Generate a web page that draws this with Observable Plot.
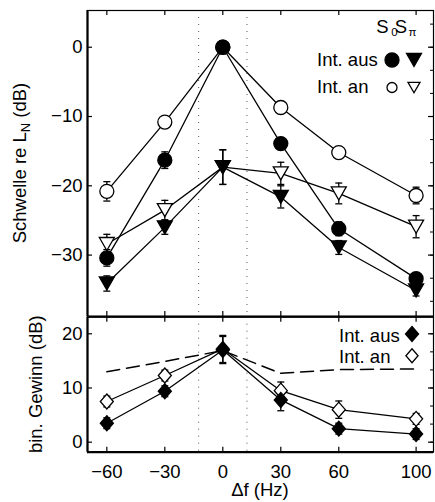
<!DOCTYPE html>
<html><head><meta charset="utf-8">
<script src="https://cdn.jsdelivr.net/npm/d3@7"></script>
<script src="https://cdn.jsdelivr.net/npm/@observablehq/plot@0.6"></script>
<style>
body{margin:0;background:#fff;}
#wrap{position:relative;width:435px;height:502px;}
#wrap svg{position:absolute;left:0;overflow:visible;}
</style></head><body><div id="wrap"></div>
<script>
// ---------- data ----------
const deltaF = [-60, -30, 0, 30, 60, 100];
const xTickValues = [-60, -30, 0, 30, 60, 100];
const bandEdges = [-12.5, 12.5];

// top panel: Schwelle re L_N (dB)
const ausS0 = [-30.4, -16.3, 0, -13.9, -26.2, -33.4];     // Int. aus, S0 (filled circle)
const ausS0Err = [1.2, 1.2, 0.3, 0.8, 1.0, 0.8];
const anS0 = [-20.8, -10.8, 0, -8.7, -15.2, -21.4];       // Int. an, S0 (open circle)
const anS0Err = [1.4, 0.6, 0.3, 0.6, 0.6, 1.2];
const ausSpi = [-34.1, -26.0, -17.3, -21.6, -28.9, -35.1]; // Int. aus, Spi (filled triangle)
const ausSpiErr = [1.1, 1.0, 2.5, 1.6, 1.0, 0.8];
const anSpi = [-28.4, -23.5, -17.3, -18.2, -21.1, -25.9];  // Int. an, Spi (open triangle)
const anSpiErr = [1.4, 1.4, 2.5, 1.6, 1.5, 1.6];
const yTicksTop = [0, -10, -20, -30];

// bottom panel: bin. Gewinn (dB)
const gainAus = [3.5, 9.4, 17.0, 7.8, 2.5, 1.5];
const gainAusErr = [1.0, 1.0, 2.5, 2.0, 1.0, 1.0];
const gainAn = [7.5, 12.3, 17.2, 9.5, 6.0, 4.3];
const gainAnErr = [1.0, 1.0, 2.5, 1.6, 1.6, 1.0];
const gainDashed = [13.0, 14.9, 16.9, 12.7, 13.4, 13.5];
const yTicksBottom = [0, 10, 20];

const legendTop = ["Int. aus", "Int. an"];
const legendBottom = ["Int. aus", "Int. an"];

// ---------- layout ----------
const FONT = "'Liberation Sans', Arial, Helvetica, sans-serif";
const FS = 18.5;
const W = 435, ML = 87, MR = 2;
const PW = W - ML - MR;
const xDomain = [-70, 109];

const triDown = {draw(c, size){ const r = Math.sqrt(size/Math.PI); c.moveTo(-r, -0.87*r); c.lineTo(r, -0.87*r); c.lineTo(0, 0.87*r); c.closePath(); }};
const diamond = {draw(c, size){ const r = Math.sqrt(size/Math.PI); c.moveTo(0, -r); c.lineTo(0.87*r, 0); c.lineTo(0, r); c.lineTo(-0.87*r, 0); c.closePath(); }};
const cap = {draw(c){ c.moveTo(-3.5, 0); c.lineTo(3.5, 0); }};

const rows = (vals, errs) => deltaF.map((x, i) => ({x, y: vals[i], e: errs[i]}));
const LW = 1.3;

function series(data, sym, r, fill) {
  return {
    line: Plot.line(data, {x: "x", y: "y", stroke: "black", strokeWidth: LW}),
    bars: [
      Plot.ruleX(data, {x: "x", y1: d => d.y - d.e, y2: d => d.y + d.e, stroke: "black", strokeWidth: LW}),
      Plot.dot(data, {x: "x", y: d => d.y - d.e, symbol: cap, fill: "none", stroke: "black", strokeWidth: LW}),
      Plot.dot(data, {x: "x", y: d => d.y + d.e, symbol: cap, fill: "none", stroke: "black", strokeWidth: LW})
    ],
    dots: Plot.dot(data, {x: "x", y: "y", symbol: sym, r, fill, stroke: "black", strokeWidth: LW})
  };
}

function frameMarks(PH, yTicks, yDomain) {
  const minorStep = 10/3;
  const minor = d3.range(Math.ceil(yDomain[0]/minorStep), Math.floor(yDomain[1]/minorStep) + 1).map(k => k*minorStep);
  return [
    Plot.ruleX(bandEdges, {stroke: "#555", strokeWidth: 1, strokeDasharray: "1,6"}),
    Plot.frame({stroke: "black", strokeWidth: 1.2}),
    Plot.ruleX([xDomain[0]], {stroke: "black", strokeWidth: 2.2}),
    Plot.ruleY([yDomain[0]], {stroke: "black", strokeWidth: 2.2}),
    Plot.tickX(xTickValues, {x: d => d, insetTop: PH - 5, strokeWidth: 1.2}),
    Plot.tickX(xTickValues, {x: d => d, insetBottom: PH - 5, strokeWidth: 1.2}),
    Plot.tickY(yTicks, {y: d => d, insetRight: PW - 5, strokeWidth: 1.2}),
    Plot.tickY(yTicks, {y: d => d, insetLeft: PW - 5, strokeWidth: 1.2}),
    Plot.tickY(minor, {y: d => d, insetLeft: PW - 3, strokeWidth: 1})
  ];
}

const wrap = document.getElementById("wrap");

// ---------- top panel ----------
const topH = 317, topMT = 10, topMB = 1;
const topPH = topH - topMT - topMB;
const yDomTop = [-38.86, 5.3];
const sAnS0 = series(rows(anS0, anS0Err), "circle", 7, "white");
const sAnSpi = series(rows(anSpi, anSpiErr), triDown, 7.5, "white");
const sAusS0 = series(rows(ausS0, ausS0Err), "circle", 7, "black");
const sAusSpi = series(rows(ausSpi, ausSpiErr), triDown, 7.5, "black");
const topSeries = [sAnS0, sAnSpi, sAusS0, sAusSpi];

const topPlot = Plot.plot({
  width: W, height: topH, marginLeft: ML, marginRight: MR, marginTop: topMT, marginBottom: topMB,
  x: {domain: xDomain, axis: null},
  y: {domain: yDomTop, axis: null},
  style: {fontFamily: FONT, fontSize: FS + "px", background: "transparent", overflow: "visible"},
  marks: [
    ...frameMarks(topPH, yTicksTop, yDomTop),
    Plot.axisY(yTicksTop, {tickSize: 0, tickPadding: 5, label: null, fontSize: FS}),
    ...topSeries.map(s => s.line),
    ...topSeries.flatMap(s => s.bars),
    ...topSeries.map(s => s.dots)
  ]
});
topPlot.style.top = "0px";
wrap.appendChild(topPlot);

// ---------- bottom panel ----------
const botTop = 316, botH = 186, botMT = 0.7, botMB = 50.3;
const botPH = botH - botMT - botMB;
const yDomBot = [-1.85, 23.06];
const sAn = series(rows(gainAn, gainAnErr), diamond, 7.5, "white");
const sAus = series(rows(gainAus, gainAusErr), diamond, 7.5, "black");
const botSeries = [sAn, sAus];

const bottomPlot = Plot.plot({
  width: W, height: botH, marginLeft: ML, marginRight: MR, marginTop: botMT, marginBottom: botMB,
  x: {domain: xDomain, axis: null},
  y: {domain: yDomBot, axis: null},
  style: {fontFamily: FONT, fontSize: FS + "px", background: "transparent", overflow: "visible"},
  marks: [
    ...frameMarks(botPH, yTicksBottom, yDomBot),
    Plot.axisY(yTicksBottom, {tickSize: 0, tickPadding: 5, label: null, fontSize: FS}),
    Plot.axisX(xTickValues, {tickSize: 0, tickPadding: 13, label: null, fontSize: FS}),
    Plot.line(deltaF.map((x, i) => ({x, y: gainDashed[i]})), {x: "x", y: "y", stroke: "black", strokeWidth: 1.5, strokeDasharray: "13,7"}),
    ...botSeries.map(s => s.line),
    ...botSeries.flatMap(s => s.bars),
    ...botSeries.map(s => s.dots)
  ]
});
bottomPlot.style.top = botTop + "px";
wrap.appendChild(bottomPlot);

// ---------- labels & legends ----------
function sym(g, type, r, fill, x, y) {
  const size = Math.PI * r * r;
  g.append("path").attr("d", d3.symbol(type === "circle" ? d3.symbolCircle : type, size)())
    .attr("transform", `translate(${x},${y})`).attr("fill", fill).attr("stroke", "black").attr("stroke-width", LW);
}
function txt(g, x, y, s, anchor = "start") {
  return g.append("text").attr("x", x).attr("y", y).attr("text-anchor", anchor)
    .attr("font-family", FONT).attr("font-size", FS).attr("fill", "black").text(s);
}

const gt = d3.select(topPlot).append("g");
const yl = gt.append("text").attr("transform", "translate(25.5,163) rotate(-90)").attr("text-anchor", "middle")
  .attr("font-family", FONT).attr("font-size", FS).attr("fill", "black");
yl.append("tspan").text("Schwelle re L");
yl.append("tspan").attr("font-size", 13).attr("dy", 4).text("N");
yl.append("tspan").attr("dy", -4).text(" (dB)");
const hd = gt.append("text").attr("font-family", FONT).attr("font-size", FS).attr("fill", "black");
hd.append("tspan").attr("x", 382.5).attr("y", 33).text("S");
hd.append("tspan").attr("x", 394.5).attr("y", 35.5).attr("font-size", 11.5).text("0");
hd.append("tspan").attr("x", 401).attr("y", 33).text("S");
hd.append("tspan").attr("x", 412.5).attr("y", 35.5).attr("font-size", 11.5).text("π");
txt(gt, 317, 66, legendTop[0]);
txt(gt, 317, 93, legendTop[1]);
sym(gt, "circle", 7, "black", 392, 60);
sym(gt, triDown, 7.5, "black", 414, 60);
sym(gt, "circle", 5, "white", 392, 87.5);
sym(gt, triDown, 6, "white", 414, 87.5);

const gb = d3.select(bottomPlot).append("g");
gb.append("text").attr("transform", "translate(41.5,68.2) rotate(-90)").attr("text-anchor", "middle")
  .attr("font-family", FONT).attr("font-size", FS).attr("fill", "black").text("bin. Gewinn (dB)");
txt(gb, 260, 179.5, "Δf (Hz)", "middle");
txt(gb, 339, 25.7, legendBottom[0]);
txt(gb, 339, 47.3, legendBottom[1]);
sym(gb, diamond, 7.5, "black", 412, 18);
sym(gb, diamond, 7, "white", 412, 39.8);
</script></body></html>
